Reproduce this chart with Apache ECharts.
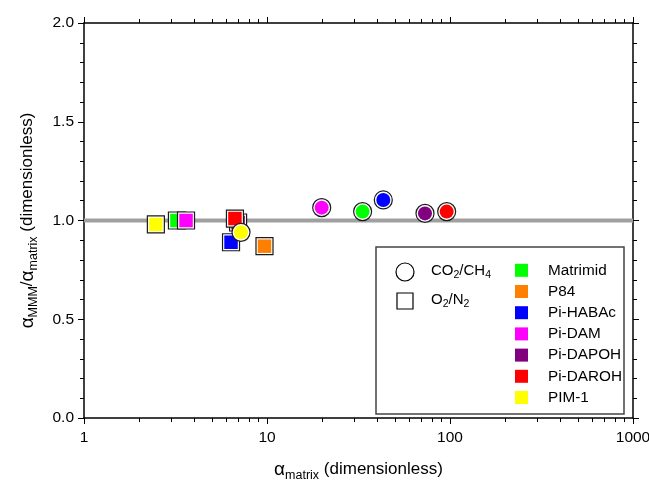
<!DOCTYPE html>
<html><head><meta charset="utf-8">
<script src="https://cdn.jsdelivr.net/npm/echarts@6/dist/echarts.min.js"></script>
<style>html,body{margin:0;padding:0;background:#fff}#c{width:649px;height:486px}</style>
</head><body><div id="c"></div>
<script>
// ---- data ----
const materials = ['Matrimid', 'P84', 'Pi-HABAc', 'Pi-DAM', 'Pi-DAPOH', 'Pi-DAROH', 'PIM-1'];
const materialColors = ['#00ff00', '#ff8000', '#0000ff', '#ff00ff', '#800080', '#ff0000', '#ffff00'];
// O2/N2 (squares)
const o2n2Material = ['PIM-1', 'Matrimid', 'Pi-DAM', 'Pi-DAPOH', 'Pi-DAROH', 'Pi-HABAc', 'P84'];
const o2n2AlphaMatrix = [2.47, 3.22, 3.61, 6.95, 6.68, 6.36, 9.69];
const o2n2Ratio = [0.98, 1.0, 1.0, 0.99, 1.01, 0.89, 0.87];
// CO2/CH4 (circles)
const co2ch4Material = ['Pi-DAM', 'Matrimid', 'Pi-HABAc', 'Pi-DAPOH', 'Pi-DAROH', 'PIM-1'];
const co2ch4AlphaMatrix = [19.9, 33.3, 43.2, 73.0, 95.9, 7.21];
const co2ch4Ratio = [1.065, 1.045, 1.104, 1.036, 1.045, 0.94];
// reference line
const refLineX = [1, 1000];
const refLineY = [1, 1];
// axes
const xMin = 1, xMax = 1000;
const xMajorTicks = [1, 10, 100, 1000];
const xMinorTicks = [2, 3, 4, 5, 6, 7, 8, 9, 20, 30, 40, 50, 60, 70, 80, 90, 200, 300, 400, 500, 600, 700, 800, 900];
const yMin = 0, yMax = 2, yInterval = 0.5;

// ---- chart ----
const FONT = 'Liberation Sans, Arial, sans-serif';
const colorOf = m => materialColors[materials.indexOf(m)];
const chart = echarts.init(document.getElementById('c'), null, {renderer: 'canvas'});

const series = [{
  type: 'line', silent: true, symbol: 'none', z: 1,
  data: refLineX.map((x, i) => [x, refLineY[i]]),
  lineStyle: {color: '#a0a0a0', width: 4}
}];
function addPoint(sym, x, y, color, bgSize, fgSize) {
  series.push({
    type: 'scatter', silent: true, symbol: sym, symbolSize: bgSize, z: 3,
    data: [[x, y]],
    itemStyle: {color: '#ffffff', borderColor: '#1a1a1a', borderWidth: 1.2, opacity: 1}
  });
  series.push({
    type: 'scatter', silent: true, symbol: sym, symbolSize: fgSize, z: 3,
    data: [[x, y]],
    itemStyle: {color: color, opacity: 1}
  });
}
o2n2Material.forEach((m, i) => addPoint('rect', o2n2AlphaMatrix[i], o2n2Ratio[i], colorOf(m), 17, 13.5));
co2ch4Material.forEach((m, i) => addPoint('circle', co2ch4AlphaMatrix[i], co2ch4Ratio[i], colorOf(m), 18, 14));

const axisLine = {show: true, lineStyle: {color: '#000', width: 1.5}};
const titleRich = {
  a: {fontSize: 17, fontFamily: FONT, color: '#000'},
  g: {fontSize: 19, fontFamily: FONT, color: '#000'},
  s: {fontSize: 12.5, fontFamily: FONT, color: '#000', padding: [12, 0, 0, 0]}
};
function xAx(pos, major, extra) {
  return Object.assign({
    type: 'log', logBase: 10, min: xMin, max: xMax, position: pos, gridIndex: 0,
    axisLine: major ? axisLine : {show: false},
    axisTick: {show: true, inside: false, length: major ? 6 : 4,
      customValues: major ? xMajorTicks : xMinorTicks, lineStyle: {color: '#000', width: 1}},
    axisLabel: {show: false},
    splitLine: {show: false}, minorTick: {show: false}, minorSplitLine: {show: false}
  }, extra || {});
}
const xAxes = [
  xAx('bottom', true, {
    axisLabel: {show: true, customValues: xMajorTicks, color: '#000', fontSize: 15.5, fontFamily: FONT, margin: 12,
      formatter: v => String(Math.round(v))},
    name: '{g|α}{s|matrix}{a| (dimensionless)}', nameLocation: 'middle', nameGap: 39,
    nameTextStyle: {color: '#000', fontFamily: FONT, fontSize: 17, rich: titleRich}
  }),
  xAx('bottom', false),
  xAx('top', true),
  xAx('top', false)
];
function yAx(pos, labels, extra) {
  return Object.assign({
    type: 'value', min: yMin, max: yMax, interval: yInterval, position: pos,
    axisLine: axisLine,
    axisTick: {show: true, inside: false, length: 6, lineStyle: {color: '#000', width: 1}},
    minorTick: {show: true, splitNumber: 5, length: 4, lineStyle: {color: '#000', width: 1}},
    axisLabel: labels ? {show: true, color: '#000', fontSize: 15.5, fontFamily: FONT, margin: 10,
      formatter: v => v.toFixed(1)} : {show: false},
    splitLine: {show: false}, minorSplitLine: {show: false}
  }, extra || {});
}
const yAxes = [
  yAx('left', true, {
    name: '{g|α}{s|MMM}{a|/}{g|α}{s|matrix}{a| (dimensionless)}', nameLocation: 'middle', nameGap: 44,
    nameRotate: 90,
    nameTextStyle: {color: '#000', fontFamily: FONT, fontSize: 17, rich: titleRich}
  }),
  yAx('right', false)
];

// legend (custom box)
const legendEls = [
  {type: 'rect', shape: {x: 376, y: 247, width: 248, height: 167},
   style: {fill: '#fff', stroke: '#444', lineWidth: 1.5}, z: 10},
  {type: 'circle', shape: {cx: 405, cy: 272, r: 9}, style: {fill: '#fff', stroke: '#000', lineWidth: 1.2}, z: 11},
  {type: 'rect', shape: {x: 397, y: 293, width: 16, height: 16}, style: {fill: '#fff', stroke: '#000', lineWidth: 1.2}, z: 11},
  {type: 'text', x: 431, y: 271, z: 11, style: {text: '{a|CO}{s|2}{a|/CH}{s|4}', verticalAlign: 'middle',
    rich: {a: {fontSize: 15, fontFamily: FONT, fill: '#000'}, s: {fontSize: 10.5, fontFamily: FONT, fill: '#000', padding: [9, 0, 0, 0]}}}},
  {type: 'text', x: 431, y: 300, z: 11, style: {text: '{a|O}{s|2}{a|/N}{s|2}', verticalAlign: 'middle',
    rich: {a: {fontSize: 15, fontFamily: FONT, fill: '#000'}, s: {fontSize: 10.5, fontFamily: FONT, fill: '#000', padding: [9, 0, 0, 0]}}}}
];
const legendRowY = [270.3, 291.5, 312.7, 333.9, 355.1, 376.3, 397.5];
materials.forEach((m, i) => {
  legendEls.push({type: 'rect', shape: {x: 515, y: legendRowY[i] - 6.5, width: 13, height: 13},
    style: {fill: materialColors[i]}, z: 11});
  legendEls.push({type: 'text', x: 548, y: legendRowY[i], z: 11,
    style: {text: m, fontSize: 15.3, fontFamily: FONT, fill: '#000', verticalAlign: 'middle'}});
});

chart.setOption({
  backgroundColor: '#fff',
  animation: false,
  grid: {left: 84, right: 16, top: 23, bottom: 68, containLabel: false, outerBoundsMode: 'none'},
  xAxis: xAxes,
  yAxis: yAxes,
  series: series,
  graphic: legendEls
});
</script>
</body></html>
